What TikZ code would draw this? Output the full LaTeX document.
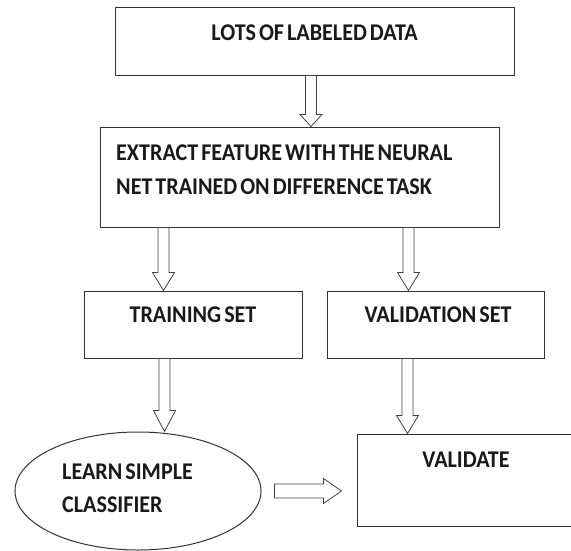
\documentclass[tikz,border=0pt]{standalone}
\usepackage{fontspec}
\setmainfont{Carlito}[FakeStretch=0.92, WordSpace=0.6]
\usetikzlibrary{shapes.geometric,calc}
\tikzset{
  box/.style={draw=black!80, line width=1pt, inner sep=0pt},
  txt/.style={inner sep=0pt, font=\fontsize{24}{34}\selectfont\bfseries, text=black!90},
  down hollow/.style={draw=black!75, line width=0.8pt, to path={
    let \p1=(\tikztostart), \p2=(\tikztotarget) in
    (\x1-5.5pt,\y1) -- (\x1-5.5pt,\y2+#1) -- (\x1-11pt,\y2+#1) -- (\x1,\y2)
    -- (\x1+11pt,\y2+#1) -- (\x1+5.5pt,\y2+#1) -- (\x1+5.5pt,\y1) -- cycle}},
  down hollow/.default=18pt,
  right hollow/.style={draw=black!75, line width=0.8pt, to path={
    let \p1=(\tikztostart), \p2=(\tikztotarget) in
    (\x1,\y1+7pt) -- (\x2-18pt,\y1+7pt) -- (\x2-18pt,\y1+12.5pt) -- (\x2,\y1)
    -- (\x2-18pt,\y1-12.5pt) -- (\x2-18pt,\y1-7pt) -- (\x1,\y1-7pt) -- cycle}}
}
\begin{document}
\begin{tikzpicture}[x=1pt,y=-1pt]
\useasboundingbox (0,0) rectangle (571,550);
\clip (0,0) rectangle (571,550);

\node[box, minimum width=399pt, minimum height=68pt] (data) at (314.5,41) {};
\node[box, minimum width=399pt, minimum height=100pt] (feature) at (299.5,177) {};
\node[box, minimum width=218pt, minimum height=67pt] (train) at (193,324.5) {};
\node[box, minimum width=217pt, minimum height=67pt] (valid) at (435.5,324.5) {};
\node[box, ellipse, minimum width=246pt, minimum height=118pt] (learn) at (138,491) {};
\node[box, minimum width=243pt, minimum height=92pt] (validate) at (478.5,480) {};

\node[txt, anchor=base] (datatext) at (314.5,40) {LOTS OF LABELED DATA};
\node[txt, anchor=base west] (featuretext) at (116,160.5) {EXTRACT FEATURE WITH THE NEURAL};
\node[txt, anchor=base west] (featuretext2) at (116,194.5) {NET TRAINED ON DIFFERENCE TASK};
\node[txt, anchor=base] (traintext) at (193,322.5) {TRAINING SET};
\node[txt, anchor=base] (validtext) at (438,322.5) {VALIDATION SET};
\node[txt, anchor=base west] (learntext) at (62,479.5) {LEARN SIMPLE};
\node[txt, anchor=base west] (learntext2) at (62,512.5) {CLASSIFIER};
\node[txt, anchor=base] (validatetext) at (466,467.5) {VALIDATE};

\draw[down hollow=12pt] ([xshift=-3.5pt]data.south) to (feature.north);
\draw[down hollow] ([xshift=64pt]feature.south west) to (train.north);
\draw[down hollow] ([xshift=-91pt]feature.south east) to (valid.north);
\draw[down hollow=21pt] ([xshift=81pt]train.south west) to (learn.north);
\draw[down hollow] ([xshift=81pt]valid.south west) to (validate.north);
\draw[right hollow] ([xshift=13pt]learn.east) to ([xshift=-15pt]validate.west);
\end{tikzpicture}
\end{document}
